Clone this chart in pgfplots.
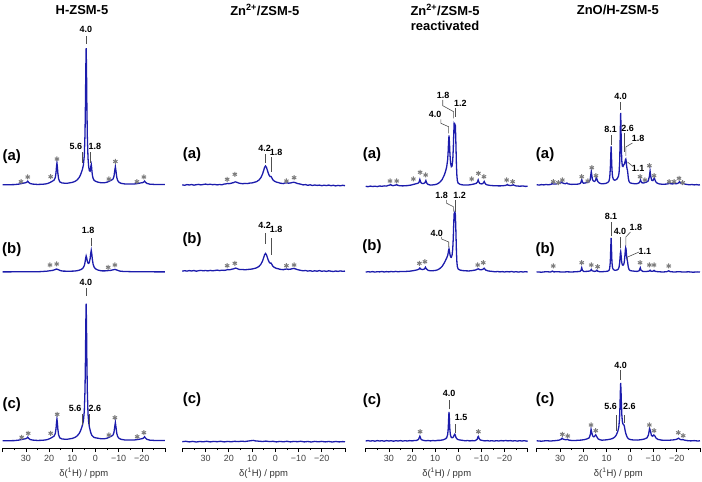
\documentclass[border=0pt]{standalone}
\usepackage{fontspec}
\setmainfont{Liberation Sans}
\usepackage{pgfplots}
\pgfplotsset{compat=1.18}
\definecolor{spc}{RGB}{28,28,172}
\definecolor{astc}{RGB}{125,125,125}
\definecolor{leadc}{RGB}{80,80,80}
\pgfplotsset{
  colax/.style={scale only axis, height=448bp, xmin=-30, xmax=40, x dir=reverse,
    ymin=0, ymax=448, axis x line*=bottom, axis y line=none, ytick=\empty, clip=false,
    xtick={40,30,20,10,0,-10,-20,-30}, xticklabels={{},30,20,10,0,−10,−20,{}},
    minor xtick={35,25,15,5,-5,-15,-25}, tick align=outside,
    major tick length=4bp, minor tick length=2.2bp,
    tick style={black, line width=0.6bp}, axis line style={black, line width=0.7bp},
    xticklabel style={font=\fontsize{9}{10}\selectfont, text=black!75},
    xlabel={δ(\textsuperscript{1}H) / ppm},
    xlabel style={font=\fontsize{9.5}{11}\selectfont, text=black!80, yshift=1bp},
    anchor=south west},
  sp/.style={spc, line width=1.3bp, mark=none, y filter/.code={\pgfmathparse{\pgfmathresult+#1}}},
  ast/.style={only marks, mark=asterisk, mark size=2.5bp, astc, mark options={line width=1bp}},
}
\tikzset{
  lab/.style={font=\fontsize{9}{10}\selectfont\bfseries, inner sep=0pt},
  rowl/.style={font=\fontsize{15}{17}\selectfont\bfseries, inner sep=0pt},
  ttl/.style={font=\fontsize{13}{15.5}\selectfont\bfseries, align=center, inner sep=0pt},
  ld/.style={leadc, line width=0.6bp},
}
\begin{document}
\begin{tikzpicture}
\useasboundingbox (0,0) rectangle (702bp,482bp);
% ---------------- Column 1: H-ZSM-5
\begin{axis}[colax, at={(2.7bp,34bp)}, width=162.3bp]
\addplot[sp=263] coordinates {(40,0.3)(37,0.3)(35,0.4)(33,0.9)(32,1.4)(31,1.9)(30.2,2.2)(29.6,2.8)(29.2,3.8)(28.8,2.6)(28.2,1.5)(27,0.9)(25,0.55)(23,0.7)(21.5,1.05)(20.5,1.6)(19.5,2.6)(18.5,3.9)(17.8,5.0)(17.3,7.5)(17.0,12.3)(16.8,18.2)(16.6,22)(16.4,17.8)(16.2,11.7)(15.9,6.3)(15.4,3.2)(14.5,2.1)(13,1.7)(12,1.8)(10,2.6)(9,3.4)(8,4.8)(7,7.5)(6.5,9.8)(6,12.9)(5.6,15.8)(5.2,19.8)(4.8,29.6)(4.5,50.7)(4.3,82.4)(4.15,117)(4.0,136.9)(3.85,116.5)(3.7,81.3)(3.5,49)(3.2,26.9)(2.9,18)(2.6,14.2)(2.3,13.8)(2.1,16)(1.95,19)(1.8,20.5)(1.65,17.8)(1.5,13.6)(1.3,9.6)(1.0,6.6)(0.6,4.8)(0,3.8)(-1,2.9)(-2,2.4)(-3,2.2)(-4,2.3)(-5,2.8)(-6,3.8)(-7,5.0)(-7.6,6.0)(-8.0,8.7)(-8.3,13.8)(-8.6,18.2)(-8.9,13.3)(-9.2,7.7)(-9.6,4.4)(-10.2,2.6)(-11,1.7)(-12.5,1.1)(-14,0.9)(-16,0.9)(-17.5,1.2)(-18.5,1.6)(-19.6,2.1)(-20.4,2.4)(-20.8,2.9)(-21.2,3.9)(-21.6,2.7)(-22.2,1.6)(-23.5,0.8)(-26,0.5)(-30,0.4)};
\addplot[sp=176] coordinates {(40,0.1)(36,0.15)(32,0.2)(28,0.2)(24,0.35)(21,0.8)(19.5,1.3)(18.5,1.6)(17.5,2.3)(16.8,3.0)(16,2.3)(15,1.3)(14,0.9)(12,0.8)(10,0.85)(9,0.95)(8,1.25)(7,1.8)(6,2.7)(5.3,4.1)(4.8,6.4)(4.5,9.4)(4.25,13.3)(4.0,16)(3.75,14)(3.5,10.8)(3.2,8.9)(2.9,8.6)(2.6,9.9)(2.3,13.3)(2.05,18.3)(1.8,21.6)(1.55,17.7)(1.3,12.1)(1.0,7.8)(0.6,5.1)(0,3.2)(-1,2.0)(-2,1.4)(-3,1.1)(-4,1.1)(-5.5,1.4)(-6.5,1.6)(-7.5,2.1)(-8.4,2.6)(-9.3,1.9)(-10.5,0.9)(-12,0.55)(-15,0.35)(-20,0.2)(-25,0.15)(-30,0.1)};
\addplot[sp=7] coordinates {(40,0.3)(37,0.3)(35,0.4)(33,0.9)(32,1.4)(31,1.9)(30.2,2.2)(29.6,2.8)(29.2,3.8)(28.8,2.6)(28.2,1.5)(27,0.9)(25,0.55)(23,0.7)(21.5,1.05)(20.5,1.6)(19.5,2.6)(18.5,3.9)(17.8,5.0)(17.3,7.5)(17.0,12.3)(16.8,18.2)(16.6,22)(16.4,17.8)(16.2,11.7)(15.9,6.3)(15.4,3.2)(14.5,2.1)(13,1.7)(12,1.8)(10,2.6)(9,3.4)(8,4.8)(7,7.5)(6.5,9.8)(6,12.9)(5.6,15.9)(5.2,19.9)(4.8,29.8)(4.5,50.9)(4.3,82.7)(4.15,117.4)(4.0,137.3)(3.85,117)(3.7,82)(3.5,50)(3.2,27)(2.9,18.5)(2.6,14)(2.3,11)(2.1,9)(1.8,7)(1.5,5.5)(1.0,4.3)(0.6,3.6)(0,3.2)(-1,2.8)(-2,2.4)(-3,2.2)(-4,2.3)(-5,2.8)(-6,3.8)(-7,5.0)(-7.6,6.0)(-8.0,8.7)(-8.3,13.8)(-8.6,18.5)(-8.9,13.3)(-9.2,7.7)(-9.6,4.4)(-10.2,2.6)(-11,1.7)(-12.5,1.1)(-14,0.9)(-16,0.9)(-17.5,1.2)(-18.5,1.6)(-19.6,2.1)(-20.4,2.5)(-20.8,3.1)(-21.2,4.2)(-21.6,2.9)(-22.2,1.7)(-23.5,0.8)(-26,0.5)(-30,0.4)};
\addplot[ast] coordinates {(32.1,266.3)(29.2,271)(19.3,271.3)(16.6,289)(-5.8,269)(-8.6,286.5)(-17.9,266.3)(-20.9,271)
  (19.6,183)(16.7,184)(-5.5,180.7)(-8.4,183)
  (31.8,10.7)(29,14.7)(19.3,14.7)(16.5,33.7)(-5.8,13)(-8.4,30.3)(-18,11.3)(-20.9,15.3)};
\node[ttl] at (5.8,438) {H-ZSM-5};
\node[rowl] at (36.1,291) {(a)};
\node[rowl] at (36.1,198) {(b)};
\node[rowl] at (36.1,43) {(c)};
\node[lab] at (4.1,419) {4.0}; \draw[ld] (4.0,404)--(4.0,412);
\node[lab] at (8.4,302) {5.6}; \draw[ld] (5.8,285)--(5.8,296);
\node[lab] at (0.2,302) {1.8}; \draw[ld] (2.0,285)--(2.0,296);
\node[lab] at (3.2,218) {1.8}; \draw[ld] (1.8,202)--(1.8,210);
\node[lab] at (4.1,166) {4.0}; \draw[ld] (4.0,152)--(4.0,160);
\node[lab] at (8.8,40) {5.6}; \draw[ld] (5.8,23)--(5.8,34);
\node[lab] at (0.2,40) {2.6}; \draw[ld] (2.7,23)--(2.7,34);
\end{axis}
% ---------------- Column 2: Zn2+/ZSM-5
\begin{axis}[colax, at={(182.3bp,34bp)}, width=162.7bp]
\addplot[sp=263] coordinates {(40,0.2)(39,-0.3)(38,0.4)(37,0.0)(36,0.5)(35,-0.2)(34,0.3)(33,0.6)(32,0.1)(31,0.5)(30,0.9)(29,0.4)(28,0.8)(27,0.3)(26,0.6)(25,0.1)(24,0.5)(23,0.2)(22,0.9)(21,1.2)(20.5,1.6)(20,1.3)(19.5,1.5)(19,1.7)(18.5,2.1)(18,2.3)(17.5,2.9)(17,3.1)(16.5,2.6)(16,2.2)(15.5,1.8)(15,1.6)(14,1.3)(13,1.6)(12,1.4)(11,1.9)(10,2.1)(9,2.7)(8,3.4)(7,5.0)(6.2,7.3)(5.5,10.8)(5.0,14.5)(4.6,17.6)(4.2,19)(3.8,17.7)(3.4,14.7)(3.0,11.8)(2.6,9.6)(2.2,8.4)(1.8,8.5)(1.4,6.8)(1.0,5.1)(0.4,3.9)(-0.5,2.9)(-1.2,2.5)(-2,1.9)(-2.8,1.6)(-3.5,1.4)(-4,1.9)(-5,2.2)(-5.7,1.8)(-6.5,2.0)(-7.3,2.5)(-8,2.7)(-8.7,2.3)(-9.5,1.5)(-10.2,1.2)(-11,0.8)(-12,0.1)(-13,0.4)(-14,-0.3)(-15,0.2)(-16,-0.5)(-17,0.0)(-18,-0.4)(-19,-0.1)(-20,-0.7)(-21,-0.2)(-22,-0.6)(-23,-0.1)(-24,-0.7)(-25,-0.3)(-26,-0.9)(-27,-0.4)(-28,-0.8)(-29,-0.3)(-30,-0.7)};
\addplot[sp=177] coordinates {(40,-0.2)(39,0.3)(38,-0.1)(37,0.4)(36,0.0)(35,0.5)(34,-0.2)(33,0.3)(32,0.6)(31,0.2)(30,0.5)(29,0.1)(28,0.6)(27,0.2)(26,0.5)(25,0.9)(24,0.4)(23,0.8)(22,0.6)(21,1.0)(20.5,1.5)(20,1.2)(19.5,1.3)(19,1.6)(18.5,1.9)(18,2.1)(17.5,2.6)(17,2.9)(16.5,2.5)(16,2.0)(15.5,1.6)(15,1.4)(14,1.5)(13,1.2)(12,1.5)(11,1.7)(10,2.0)(9,2.5)(8,3.2)(7,4.6)(6.2,6.7)(5.5,9.9)(5.0,13.3)(4.6,16.2)(4.2,17.5)(3.8,16.3)(3.4,13.5)(3.0,10.8)(2.6,8.8)(2.2,7.8)(1.8,7.9)(1.4,6.3)(1.0,4.7)(0.4,3.6)(-0.5,2.6)(-1.2,2.3)(-2,1.7)(-2.8,1.5)(-3.5,1.3)(-4,1.7)(-5,2.0)(-5.7,1.6)(-6.5,1.8)(-7.3,2.3)(-8,2.5)(-8.7,2.1)(-9.5,1.4)(-10.2,1.0)(-11,0.6)(-12,0.2)(-13,0.5)(-14,-0.1)(-15,0.3)(-16,-0.3)(-17,0.2)(-18,-0.2)(-19,0.4)(-20,-0.3)(-21,0.1)(-22,-0.4)(-23,0.2)(-24,-0.2)(-25,-0.5)(-26,0.0)(-27,-0.4)(-28,0.1)(-29,-0.3)(-30,-0.1)};
\addplot[sp=6.3] coordinates {(40,0)(38.5,0.4)(37,-0.2)(35.5,0.3)(34,-0.3)(32.5,0.2)(31,-0.1)(29.5,0.4)(28,-0.2)(26.5,0.3)(25,0)(23.5,0.4)(22,-0.2)(20.5,0.3)(19,-0.1)(17.5,0.4)(16,0.1)(14.5,0.5)(13,0.2)(11.5,0.7)(10.5,1.0)(9.5,1.3)(8.5,0.8)(7,0.5)(5.5,0.2)(4,0.6)(2.5,0.1)(1,0.4)(-0.5,-0.2)(-2,0.3)(-3.5,-0.1)(-5,0.4)(-6.5,-0.2)(-8,0.3)(-9.5,0.0)(-11,0.4)(-12.5,-0.2)(-14,0.2)(-15.5,-0.3)(-17,0.3)(-18.5,-0.1)(-20,0.3)(-21.5,-0.2)(-23,0.2)(-24.5,-0.3)(-26,0.2)(-27.5,-0.2)(-29,0.1)(-30,-0.1)};
\addplot[ast] coordinates {(20.7,268.7)(17.4,273.7)(-4.8,267)(-8.1,270.3)
  (20.7,182.3)(17.4,184.7)(-4.8,182.3)(-8.1,183)};
\node[ttl] at (4.5,438) {Zn\textsuperscript{2+}/ZSM-5};
\node[rowl] at (35.8,293) {(a)};
\node[rowl] at (35.8,208) {(b)};
\node[rowl] at (35.8,48) {(c)};
\node[lab] at (4.6,300) {4.2}; \draw[ld] (4.4,285)--(4.4,294);
\node[lab] at (-0.4,296) {1.8}; \draw[ld] (1.6,276)--(1.6,291);
\node[lab] at (4.6,223) {4.2}; \draw[ld] (4.4,204)--(4.4,215);
\node[lab] at (-0.4,219) {1.8}; \draw[ld] (1.6,193)--(1.6,210);
\end{axis}
% ---------------- Column 3: Zn2+/ZSM-5 reactivated
\begin{axis}[colax, at={(365.7bp,34bp)}, width=162bp]
\addplot[sp=261.5] coordinates {(40,0.2)(39,-0.2)(38,0.4)(37,0.0)(36,0.3)(35,-0.1)(34,0.5)(33,0.2)(32,0.6)(31,0.4)(30.5,0.9)(29.5,1.5)(29.2,1.9)(28.9,1.3)(28.2,0.8)(27.5,1.2)(26.8,1.6)(26.6,1.9)(26.4,1.4)(25.5,0.8)(24,0.6)(22,0.9)(20.5,1.4)(19.5,2.0)(18.5,2.6)(17.5,3.2)(17.0,4.0)(16.8,5.5)(16.6,7.0)(16.4,5.5)(16.1,3.8)(15.6,3.0)(15.0,3.0)(14.4,3.8)(14.2,5.0)(14.0,6.0)(13.8,4.6)(13.5,3.0)(13.0,2.0)(12,1.4)(11,1.6)(10,1.9)(9,2.6)(8,4.2)(7,6.8)(6,11.6)(5.5,15.1)(5.0,19.7)(4.6,26.5)(4.4,33.5)(4.2,44.2)(4.0,51)(3.8,43.5)(3.6,32.4)(3.3,23.1)(3.0,19.8)(2.7,20.4)(2.4,25.8)(2.15,37.9)(2.0,49.5)(1.8,62.4)(1.65,61.5)(1.5,58.5)(1.35,61.5)(1.25,60.9)(1.1,50)(0.95,36)(0.8,22)(0.6,11)(0.4,6)(0.1,3.5)(-0.5,2.5)(-1,2.0)(-2,1.6)(-3,1.4)(-4,1.4)(-5,1.7)(-6,2.1)(-7,2.6)(-7.8,3.2)(-8.3,4.5)(-8.6,6.5)(-8.9,4.5)(-9.3,3.0)(-10,2.6)(-10.6,2.9)(-11.0,4.2)(-11.2,5.0)(-11.4,4.0)(-11.8,2.4)(-12.5,1.6)(-14,1.0)(-16,0.7)(-18,0.6)(-19,0.7)(-20.3,1.0)(-21.0,1.6)(-21.2,2.0)(-21.5,1.4)(-22.5,0.9)(-23.5,1.4)(-23.8,1.8)(-24.1,1.2)(-25,0.6)(-26.5,0.3)(-28,0.5)(-29,0.1)(-30,0.2)};
\addplot[sp=176] coordinates {(40,-0.1)(39,0.3)(38,0.0)(37,0.4)(36,-0.1)(35,0.3)(34,0.1)(33,0.5)(32,0.0)(31,0.4)(30,0.1)(29,0.5)(28,0.2)(27,0.6)(26,0.2)(25,0.5)(24,0.4)(22.5,0.6)(21,0.8)(19.5,1.3)(18,2.0)(17,2.8)(16.6,4.0)(16.2,2.9)(15.5,2.4)(14.6,3.0)(14.2,4.8)(13.8,3.2)(13,1.6)(12,1.2)(11,1.3)(10,1.5)(9,2.1)(8,3.4)(7,5.5)(6,9.2)(5.5,11.6)(5.0,14.1)(4.6,16.4)(4.4,18.5)(4.2,21.4)(4.0,23.1)(3.8,20.9)(3.6,17.6)(3.3,15)(3.0,14.7)(2.7,16.6)(2.4,22.6)(2.15,34.4)(2.0,45.8)(1.8,58.2)(1.65,59)(1.5,56)(1.35,58.7)(1.25,57.2)(1.1,47)(0.95,34)(0.8,21)(0.6,10)(0.4,5.5)(0.1,3.2)(-0.5,2.2)(-1,1.8)(-2,1.4)(-3,1.2)(-4,1.1)(-4.5,1.0)(-6,1.4)(-7.5,2.0)(-8.6,3.2)(-9.5,2.2)(-10.5,2.5)(-11.2,3.8)(-11.8,2.0)(-13,1.0)(-15,0.5)(-16,0.2)(-17,0.5)(-18,0.1)(-19,0.4)(-20,0.0)(-21,0.4)(-22,0.1)(-23,0.5)(-24,0.0)(-25,0.3)(-26,-0.1)(-27,0.3)(-28,0.0)(-29,0.3)(-30,0.0)};
\addplot[sp=7] coordinates {(40,0.0)(39,0.4)(38,-0.1)(37,0.3)(36,-0.2)(35,0.4)(34,0.0)(33,0.3)(32,-0.2)(31,0.4)(30,0.0)(29,0.3)(28,-0.2)(27,0.3)(26,0.0)(25,0.4)(24,-0.1)(23,0.3)(22,0.0)(21,0.4)(20,0.1)(19,0.5)(18,0.6)(17.2,1.5)(16.9,3.2)(16.6,4.8)(16.3,3.0)(16.0,1.4)(15,0.6)(14,0.2)(13,0.5)(12,0.1)(11,0.5)(10,0.2)(9,0.6)(8,0.6)(7.2,0.9)(6.5,1.2)(5.5,2.2)(5.0,3.3)(4.6,6.3)(4.4,10.5)(4.25,17)(4.1,25.5)(4.0,29)(3.9,25.5)(3.75,17)(3.6,10.5)(3.4,6.3)(3.1,4.0)(2.7,3.2)(2.3,3.5)(2.0,4.5)(1.75,6.0)(1.5,6.8)(1.25,5.5)(1.0,3.6)(0.6,2.2)(0,1.3)(-1,0.9)(-2,0.6)(-3,0.2)(-4,0.5)(-5,0.1)(-6,0.4)(-7,0.2)(-7.5,0.6)(-8.2,1.8)(-8.5,4.2)(-8.7,4.6)(-9.0,2.6)(-9.5,1.0)(-10.5,0.5)(-11.5,0.1)(-12.5,0.4)(-13.5,0.0)(-14.5,0.3)(-15.5,-0.1)(-16.5,0.3)(-17.5,0.0)(-18.5,0.4)(-19.5,0.1)(-20.5,0.5)(-21.5,0.1)(-22.5,0.4)(-23.5,0.0)(-24.5,0.3)(-25.5,-0.1)(-26.5,0.3)(-27.5,0.0)(-28.5,0.3)(-29.5,-0.1)(-30,0.1)};
\addplot[ast] coordinates {(29.5,267)(26.6,267)(19.4,269)(16.5,275.7)(14.1,273)(-5.8,269)(-8.7,274.7)(-11.1,271.3)(-20.9,268)(-23.5,266.3)
  (16.8,184.7)(14.4,186.3)(-8.4,183)(-10.8,185.3)
  (16.5,16.3)(-8.7,16.3)};
\node[ttl] at (5.7,430.5) {Zn\textsuperscript{2+}/ZSM-5\\reactivated};
\node[rowl] at (37.3,293) {(a)};
\node[rowl] at (37.3,201) {(b)};
\node[rowl] at (37.3,47) {(c)};
\node[lab] at (6.5,353) {1.8}; \draw[ld] (6.7,348)--(6.7,342.3)--(2.0,336.3)--(2.0,329.7);
\node[lab] at (-0.9,344.7) {1.2}; \draw[ld] (1.3,340.3)--(1.3,331);
\node[lab] at (10.05,333.7) {4.0}; \draw[ld] (7.5,328.7)--(7.5,324.7)--(4.2,321.3)--(4.2,314.7);
\node[lab] at (7.2,253) {1.8}; \draw[ld] (5.0,248)--(5.0,244.7)--(2.1,241.3)--(2.1,236.3);
\node[lab] at (-0.6,253) {1.2}; \draw[ld] (1.4,248)--(1.4,236.3);
\node[lab] at (9.3,215) {4.0}; \draw[ld] (7.2,211)--(7.2,209)--(4.1,206)--(4.1,200.5);
\node[lab] at (4.0,54.7) {4.0}; \draw[ld] (4.0,38.5)--(4.0,48);
\node[lab] at (-1.2,30.7) {1.5}; \draw[ld] (1.4,15)--(1.4,23.5);
\end{axis}
% ---------------- Column 4: ZnO/H-ZSM-5
\begin{axis}[colax, at={(536.7bp,34bp)}, width=163.3bp]
\addplot[sp=263] coordinates {(40,0.3)(39,-0.1)(38,0.4)(37,0.1)(36,0.5)(35,0.2)(34,0.6)(33.6,1.0)(33.3,1.8)(33.0,1.0)(32,0.9)(31,1.4)(30.5,1.6)(29.8,1.8)(29.4,2.6)(29.2,3.0)(29.0,2.3)(28.4,1.5)(27.6,1.3)(27.2,1.9)(27.0,2.0)(26.7,1.2)(26,0.9)(25,0.6)(24,0.8)(23,0.7)(22,1.0)(21.3,1.6)(21.0,3.0)(20.7,5.5)(20.4,3.0)(20.0,1.8)(19.2,2.0)(18.3,2.6)(17.6,3.2)(17.1,5.0)(16.85,9.5)(16.6,13.5)(16.35,9.5)(16.1,5.5)(15.7,4.0)(15.2,3.6)(14.8,4.5)(14.55,6.5)(14.4,7.5)(14.2,6.0)(13.8,3.4)(13.2,2.0)(12.5,1.4)(12,1.2)(10.5,1.5)(9.5,2.5)(9.0,4.0)(8.7,7.5)(8.45,16)(8.25,29)(8.1,38.5)(7.95,29)(7.75,16)(7.5,8.5)(7.1,5.5)(6.6,4.8)(6.0,5.2)(5.5,6.3)(5.0,8.5)(4.7,12)(4.45,22)(4.25,42)(4.1,62)(4.0,72)(3.9,62)(3.75,42)(3.55,25)(3.3,19)(3.0,18.5)(2.8,19.5)(2.6,20.5)(2.4,21)(2.15,23)(1.95,25.5)(1.8,26)(1.65,24)(1.45,19)(1.25,16)(1.1,15)(0.9,11)(0.7,6.5)(0.4,3.5)(0.0,2.2)(-1,1.5)(-2.5,1.2)(-3.3,1.5)(-4.0,2.4)(-4.3,3.8)(-4.5,5.2)(-4.7,3.6)(-5.1,2.2)(-5.8,2.0)(-6.4,2.5)(-7.0,2.8)(-7.8,4.0)(-8.3,8.5)(-8.6,14)(-8.9,8.5)(-9.3,4.8)(-9.8,4.4)(-10.2,6.0)(-10.4,7.0)(-10.6,5.8)(-11.0,3.3)(-11.7,1.8)(-12.5,1.1)(-14,0.7)(-15.5,0.9)(-16.5,1.3)(-17.0,1.9)(-17.4,1.2)(-18.3,1.1)(-19.0,1.5)(-19.7,1.2)(-20.5,1.6)(-21.0,2.6)(-21.2,3.2)(-21.5,2.2)(-22.2,1.4)(-22.8,1.7)(-23.4,1.0)(-24.5,0.5)(-25.5,0.2)(-26.5,0.5)(-27.5,0.1)(-28.5,0.4)(-29.5,0.0)(-30,0.2)};
\addplot[sp=176] coordinates {(40,0.1)(38,-0.2)(36,0.3)(34,0.0)(33.3,0.9)(32.6,0.1)(31,0.3)(29,-0.1)(27,0.2)(25,0.0)(23,0.3)(21.5,0.5)(21.0,1.6)(20.7,4.2)(20.4,1.6)(19.8,0.5)(18,0.7)(17.0,1.2)(16.6,2.6)(16.2,1.2)(15.2,0.6)(14.6,0.9)(14.2,1.8)(13.8,0.8)(13,0.3)(12,0.3)(10.5,0.5)(9.5,0.9)(9.0,1.6)(8.7,3.8)(8.45,10)(8.25,24)(8.1,34)(7.95,24)(7.75,10)(7.5,4.2)(7.1,2.4)(6.6,1.8)(6.0,1.8)(5.5,2.1)(5.0,3.0)(4.7,4.8)(4.45,9)(4.25,15)(4.1,19.5)(4.0,20.5)(3.9,19)(3.75,14.5)(3.55,9.5)(3.3,7.2)(3.0,6.8)(2.7,7.5)(2.45,10)(2.2,16)(2.0,22)(1.85,24.2)(1.7,23)(1.5,17)(1.3,13)(1.1,11)(0.9,7.5)(0.7,4.5)(0.4,2.5)(0,1.5)(-1,1.0)(-2,0.8)(-3.0,0.6)(-3.9,1.2)(-4.2,3.0)(-4.4,4.2)(-4.7,1.8)(-5.5,0.6)(-7,0.5)(-8.2,0.9)(-8.6,1.8)(-9.0,0.8)(-9.8,0.7)(-10.3,1.6)(-10.7,0.7)(-12,0.3)(-14,0.0)(-15.8,0.3)(-16.6,1.2)(-17.2,0.3)(-19,0.0)(-21,0.3)(-23,-0.1)(-25,0.2)(-27,-0.2)(-29,0.1)(-30,0.0)};
\addplot[sp=7] coordinates {(40,0.2)(38,-0.2)(36,0.3)(34,0.0)(32,0.4)(30.5,0.8)(29.6,1.6)(29.1,2.8)(28.6,1.8)(27.6,1.2)(26.8,1.6)(26.2,0.9)(25,0.5)(23,0.6)(21,0.9)(19.5,1.4)(18.3,2.2)(17.5,3.2)(17.0,6.5)(16.7,11.7)(16.4,8.5)(16.0,5.0)(15.5,4.2)(15.0,5.3)(14.7,6.2)(14.3,4.5)(13.7,2.2)(13,1.3)(12,0.8)(10,1.2)(8.5,1.8)(7.5,2.5)(6.6,3.8)(6.0,5.5)(5.6,7.5)(5.2,10)(4.8,14)(4.5,22)(4.3,35)(4.15,49)(4.0,58)(3.85,50)(3.7,38)(3.5,26)(3.3,20)(3.1,17.5)(2.85,16.5)(2.6,16)(2.4,14.5)(2.1,10.5)(1.8,7.5)(1.5,5.5)(1.2,3.8)(0.8,2.5)(0.3,1.8)(-0.5,1.3)(-1.5,1.0)(-3,0.9)(-3.5,1.0)(-5,1.4)(-6.2,2.0)(-7.3,3.2)(-7.9,6.0)(-8.4,12.7)(-8.8,9.5)(-9.2,5.5)(-9.7,4.8)(-10.2,6.0)(-10.6,5.2)(-11.2,2.8)(-12,1.6)(-13.5,0.9)(-15,0.7)(-17,0.8)(-18.5,1.1)(-19.8,1.6)(-20.5,2.3)(-20.8,2.8)(-21.2,2.0)(-21.8,1.3)(-22.7,1.4)(-23.3,0.9)(-24.5,0.4)(-26,0.1)(-27.5,0.4)(-29,0.0)(-30,0.2)};
\addplot[ast] coordinates {(32.9,266.3)(30.7,265.3)(29.0,268)(20.7,271.3)(18.1,267)(16.4,280.3)(14.6,272.3)(-4.3,271.3)(-6.4,268)(-8.3,282.3)(-10.3,272.3)(-16.8,266.3)(-18.9,266.3)(-21.0,269.7)(-22.6,265.3)
  (32.9,182)(20.7,185.3)(16.6,183)(13.9,181.3)(-4.3,185.3)(-8.3,183)(-10.3,183)(-16.6,182)
  (29.0,13.7)(26.7,12)(16.7,23)(14.7,17.3)(-8.3,23)(-10.3,17.3)(-20.7,15.3)(-22.8,12.3)};
\node[ttl] at (5.2,438) {ZnO/H-ZSM-5};
\node[rowl] at (36.4,293) {(a)};
\node[rowl] at (36.4,198) {(b)};
\node[rowl] at (36.4,48) {(c)};
\node[lab] at (4.0,352) {4.0}; \draw[ld] (4.0,338)--(4.0,346.3);
\node[lab] at (8.3,318.7) {8.1}; \draw[ld] (8.1,303)--(8.1,313);
\node[lab] at (1.0,319.7) {2.6}; \draw[ld] (2.6,296)--(2.6,315.3);
\node[lab] at (-3.5,309.7) {1.8}; \draw[ld] (-1.0,305)--(1.8,301)--(1.8,292);
\node[lab] at (-3.5,279.7) {1.1}; \draw[ld] (-1.0,282)--(1.1,286);
\node[lab] at (8.15,231.3) {8.1}; \draw[ld] (8.1,211.5)--(8.1,226.3);
\node[lab] at (4.3,216.3) {4.0}; \draw[ld] (4.0,200)--(4.0,211);
\node[lab] at (-2.55,220.3) {1.8}; \draw[ld] (-0.2,216)--(1.8,211)--(1.8,202);
\node[lab] at (-6.4,196.3) {1.1}; \draw[ld] (-3.9,196)--(1.0,191)--(1.0,188);
\node[lab] at (4.0,83) {4.0}; \draw[ld] (4.0,68)--(4.0,78);
\node[lab] at (8.3,41.3) {5.6}; \draw[ld] (5.8,17)--(5.8,33);
\node[lab] at (0.3,41.3) {2.6}; \draw[ld] (2.45,25)--(2.45,33);
\end{axis}
\end{tikzpicture}
\end{document}
